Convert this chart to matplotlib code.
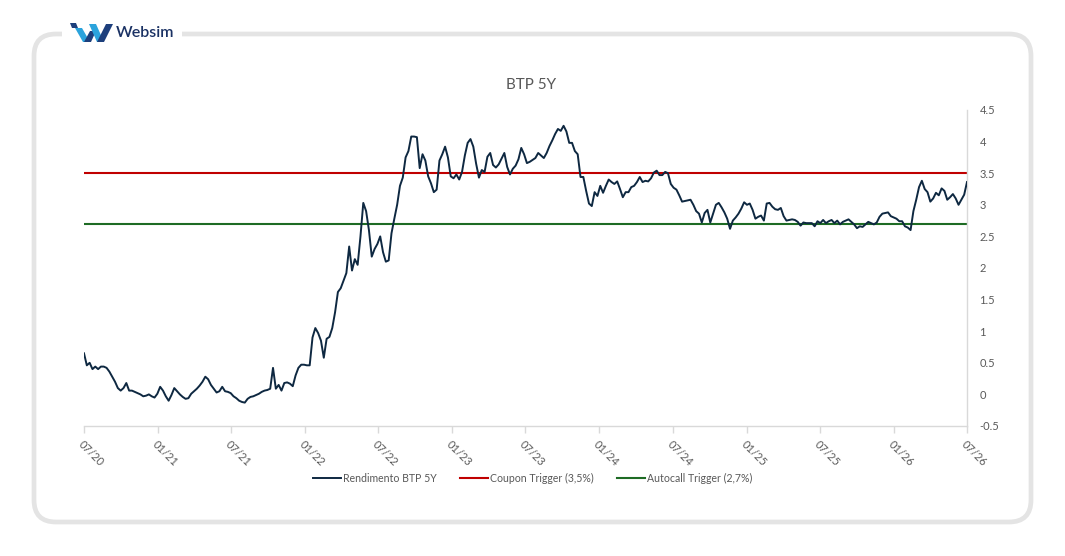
import matplotlib

matplotlib.use("Agg")
import matplotlib.pyplot as plt
import numpy as np
import pandas as pd
from matplotlib.patches import FancyBboxPatch, Polygon, Rectangle
from matplotlib.transforms import IdentityTransform

plt.rcParams["font.family"] = ["Lato", "DejaVu Sans"]

W, H = 1065, 556

title = "BTP 5Y"
series_label = "Rendimento BTP 5Y"
coupon_label = "Coupon Trigger (3,5%)"
autocall_label = "Autocall Trigger (2,7%)"
coupon_level = 3.5
autocall_level = 2.7

start_date = "2020-07-01"
tick_dates = [
    "2020-07-01", "2021-01-01", "2021-07-01", "2022-01-01", "2022-07-01",
    "2023-01-01", "2023-07-01", "2024-01-01", "2024-07-01", "2025-01-01",
    "2025-07-01", "2026-01-01", "2026-07-01",
]
tick_labels = [
    "07/20", "01/21", "07/21", "01/22", "07/22", "01/23", "07/23",
    "01/24", "07/24", "01/25", "07/25", "01/26", "07/26",
]
y_ticks = [-0.5, 0, 0.5, 1, 1.5, 2, 2.5, 3, 3.5, 4, 4.5]
y_tick_labels = ["-0.5", "0", "0.5", "1", "1.5", "2", "2.5", "3", "3.5", "4", "4.5"]

# weekly yields (%), one list per half-year
yield_2020h2 = [0.65, 0.46, 0.50, 0.40, 0.44, 0.40, 0.44, 0.44, 0.42, 0.36,
                0.28, 0.20, 0.10, 0.06, 0.10, 0.18, 0.06, 0.06, 0.04, 0.02,
                0.00, -0.03, -0.02, 0.00, -0.03, -0.05]
yield_2021h1 = [0.01, 0.12, 0.06, -0.03, -0.10, -0.01, 0.10, 0.05, 0.00, -0.04,
                -0.07, -0.06, 0.01, 0.05, 0.09, 0.14, 0.20, 0.28, 0.24, 0.15,
                0.09, 0.03, 0.05, 0.12, 0.05, 0.04]
yield_2021h2 = [0.02, -0.03, -0.06, -0.10, -0.12, -0.13, -0.07, -0.04, -0.03, -0.01,
                0.01, 0.04, 0.06, 0.07, 0.09, 0.42, 0.09, 0.15, 0.06, 0.18,
                0.19, 0.17, 0.13, 0.30, 0.42, 0.47]
yield_2022h1 = [0.47, 0.46, 0.46, 0.90, 1.05, 0.97, 0.85, 0.58, 0.88, 0.91,
                1.05, 1.30, 1.62, 1.68, 1.80, 1.92, 2.34, 1.96, 2.14, 2.05,
                2.50, 3.03, 2.90, 2.60, 2.18, 2.30]
yield_2022h2 = [2.38, 2.50, 2.25, 2.10, 2.12, 2.55, 2.78, 3.00, 3.30, 3.43,
                3.75, 3.85, 4.08, 4.08, 4.07, 3.58, 3.80, 3.70, 3.45, 3.34,
                3.20, 3.24, 3.70, 3.80, 3.92, 3.75]
yield_2023h1 = [3.45, 3.42, 3.48, 3.40, 3.52, 3.78, 3.98, 4.04, 3.92, 3.65,
                3.43, 3.55, 3.52, 3.76, 3.82, 3.63, 3.59, 3.64, 3.73, 3.82,
                3.60, 3.48, 3.57, 3.62, 3.72, 3.90]
yield_2023h2 = [3.80, 3.66, 3.68, 3.71, 3.74, 3.82, 3.78, 3.74, 3.82, 3.93,
                4.02, 4.12, 4.20, 4.17, 4.25, 4.16, 3.98, 3.98, 3.85, 3.80,
                3.44, 3.44, 3.22, 3.02, 2.98, 3.20]
yield_2024h1 = [3.14, 3.30, 3.19, 3.30, 3.40, 3.36, 3.33, 3.37, 3.25, 3.12,
                3.20, 3.20, 3.28, 3.30, 3.36, 3.44, 3.36, 3.38, 3.37, 3.42,
                3.51, 3.54, 3.47, 3.47, 3.52, 3.50]
yield_2024h2 = [3.33, 3.27, 3.24, 3.15, 3.05, 3.06, 3.07, 3.08, 3.00, 2.90,
                2.86, 2.72, 2.87, 2.92, 2.72, 2.86, 3.00, 3.03, 2.96, 2.88,
                2.78, 2.62, 2.75, 2.80, 2.86, 2.94]
yield_2025h1 = [3.04, 3.00, 3.02, 2.92, 2.78, 2.81, 2.83, 2.75, 3.02, 3.03,
                2.97, 2.93, 2.92, 2.95, 2.82, 2.75, 2.76, 2.77, 2.76, 2.73,
                2.67, 2.72, 2.71, 2.71, 2.71, 2.66]
yield_2025h2 = [2.74, 2.71, 2.76, 2.71, 2.74, 2.76, 2.71, 2.75, 2.69, 2.73,
                2.75, 2.77, 2.73, 2.69, 2.63, 2.66, 2.65, 2.69, 2.73, 2.71,
                2.69, 2.72, 2.81, 2.86, 2.87, 2.88]
yield_2026h1 = [2.82, 2.80, 2.78, 2.74, 2.74, 2.66, 2.64, 2.60, 2.90, 3.08,
                3.28, 3.38, 3.25, 3.20, 3.05, 3.10, 3.19, 3.15, 3.26, 3.22,
                3.08, 3.12, 3.17, 3.10, 3.00, 3.08, 3.16, 3.36]

btp = np.concatenate([
    yield_2020h2, yield_2021h1, yield_2021h2, yield_2022h1, yield_2022h2,
    yield_2023h1, yield_2023h2, yield_2024h1, yield_2024h2, yield_2025h1,
    yield_2025h2, yield_2026h1,
])
dates = pd.date_range(start_date, periods=len(btp), freq="7D")

TEXT = "#595959"
GRID = "#d9d9d9"
NAVY = "#0e2841"
RED = "#c00000"
GREEN = "#1e6b24"


def _px(points):
    """Pixel coords (origin top-left) to display coords."""
    return [(x, H - y) for x, y in points]


fig = plt.figure(figsize=(W / 100, H / 100), dpi=100)
fig.patch.set_facecolor("white")

# card border with a gap for the logo
card = FancyBboxPatch(
    (34, H - 522), 997, 488,
    boxstyle="round,pad=0,rounding_size=22",
    transform=IdentityTransform(), fill=False, ec="#e4e4e4", lw=3.4, zorder=0,
)
fig.add_artist(card)
fig.add_artist(Rectangle((62, H - 42), 120, 16, transform=IdentityTransform(),
                         fc="white", ec="none", zorder=1))

# logo
light_blue = "#2ba3dc"
dark_blue = "#1d3f7c"
logo_shapes = [
    ([(70, 23), (76, 23), (78, 28), (72, 28)], dark_blue),
    ([(75, 28), (82, 28), (90, 42), (83, 42)], light_blue),
    ([(84, 42), (91, 42), (96, 31), (90, 31)], dark_blue),
    ([(89, 24), (96, 24), (104, 42), (97, 42)], light_blue),
    ([(97, 42), (104, 42), (113, 24), (106, 24)], dark_blue),
]
for pts, col in logo_shapes:
    fig.add_artist(Polygon(_px(pts), closed=True, fc=col, ec="none",
                           transform=IdentityTransform(), zorder=2))
fig.text(116 / W, 1 - 33 / H, "Websim", ha="left", va="center",
         fontsize=11.5, color="#1b3264", fontweight="semibold")

fig.text(531 / W, 1 - 85 / H, title, ha="center", va="center",
         fontsize=11, color=TEXT)

ax = fig.add_axes([84 / W, 1 - 426 / H, (967 - 84) / W, (426 - 110) / H])
ax.plot(dates, btp, color=NAVY, lw=1.4, label=series_label,
        solid_joinstyle="round", zorder=3)
ax.axhline(coupon_level, color=RED, lw=1.5, label=coupon_label, zorder=2)
ax.axhline(autocall_level, color=GREEN, lw=1.5, label=autocall_label, zorder=2)

ax.set_xlim(pd.Timestamp(tick_dates[0]), pd.Timestamp(tick_dates[-1]))
ax.set_ylim(y_ticks[0], y_ticks[-1])
ax.set_xticks(pd.to_datetime(tick_dates))
ax.set_xticklabels(tick_labels, rotation=-45, ha="left", va="top",
                   rotation_mode="anchor")
ax.yaxis.tick_right()
ax.set_yticks(y_ticks)
ax.set_yticklabels(y_tick_labels)
ax.tick_params(axis="y", length=0, pad=9, labelsize=8, labelcolor=TEXT)
ax.tick_params(axis="x", length=5, width=1, color=GRID, pad=4,
               labelsize=8, labelcolor=TEXT)
for side in ["top", "left"]:
    ax.spines[side].set_visible(False)
for side in ["right", "bottom"]:
    ax.spines[side].set_color(GRID)
    ax.spines[side].set_linewidth(1)
ax.set_facecolor("none")

handles, labels = ax.get_legend_handles_labels()
fig.legend(handles, labels, loc="center", bbox_to_anchor=(533 / W, 1 - 478 / H),
           ncol=3, frameon=False, fontsize=7.6, handlelength=2.6,
           handletextpad=0.25, columnspacing=2.2, labelcolor=TEXT)

fig.savefig("out.png", dpi=100, facecolor="white")
